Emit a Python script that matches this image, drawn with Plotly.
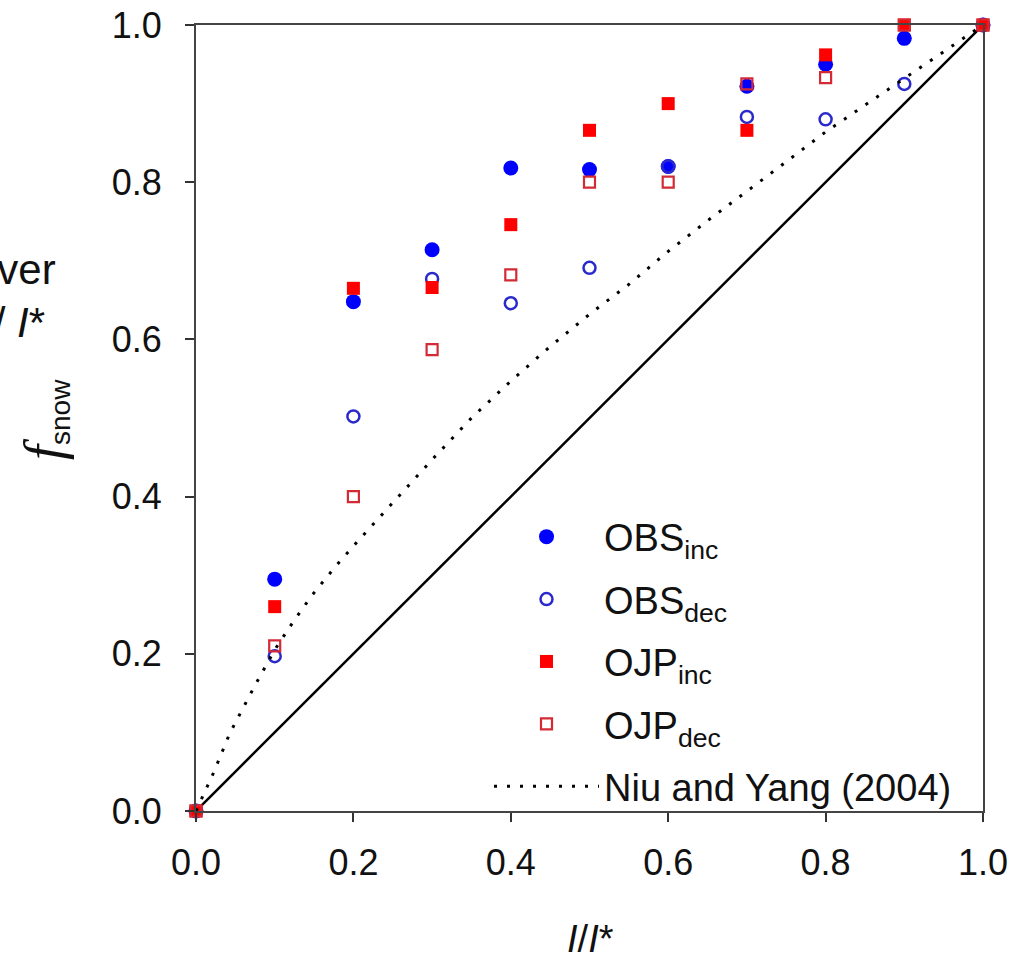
import plotly.graph_objects as go

# ---- data ----
x_vals = [0.0, 0.1, 0.2, 0.3, 0.4, 0.5, 0.6, 0.7, 0.8, 0.9, 1.0]
obs_inc = [0.0, 0.295, 0.648, 0.714, 0.818, 0.816, 0.820, 0.922, 0.950, 0.983, 1.0]
obs_dec = [0.0, 0.197, 0.502, 0.677, 0.646, 0.691, 0.820, 0.883, 0.880, 0.925, 1.0]
ojp_inc = [0.0, 0.260, 0.665, 0.666, 0.746, 0.866, 0.900, 0.866, 0.962, 1.0, 1.0]
ojp_dec = [0.0, 0.210, 0.400, 0.587, 0.682, 0.800, 0.800, 0.925, 0.933, 1.0, 1.0]

niu_x = [0.0, 0.022, 0.043, 0.075, 0.10, 0.123, 0.147, 0.178, 0.208, 0.24, 0.27, 0.30,
         0.35, 0.40, 0.45, 0.50, 0.55, 0.60, 0.65, 0.70, 0.75, 0.80, 0.85, 0.90, 0.95, 1.0]
niu_y = [0.0, 0.048, 0.099, 0.160, 0.205, 0.240, 0.274, 0.312, 0.346, 0.381, 0.414, 0.447,
         0.50, 0.547, 0.591, 0.632, 0.670, 0.712, 0.751, 0.788, 0.826, 0.864, 0.898, 0.932, 0.966, 1.0]

one_to_one = [0.0, 1.0]

tick_vals = [0.0, 0.2, 0.4, 0.6, 0.8, 1.0]
tick_text = ["0.0", "0.2", "0.4", "0.6", "0.8", "1.0"]

FONT = "Liberation Sans, Arial, sans-serif"

fig = go.Figure()

# 1:1 line (no legend entry)
fig.add_trace(go.Scatter(x=one_to_one, y=one_to_one, mode="lines",
                         line=dict(color="black", width=2.5), showlegend=False,
                         hoverinfo="skip", cliponaxis=False))

fig.add_trace(go.Scatter(x=x_vals, y=obs_inc, mode="markers", name="OBS<sub>inc</sub>",
                         legendgroup="a",
                         marker=dict(symbol="circle", size=15, color="#0000ff", line=dict(width=0)),
                         cliponaxis=False))
fig.add_trace(go.Scatter(x=x_vals, y=obs_dec, mode="markers", name="OBS<sub>dec</sub>",
                         legendgroup="b",
                         marker=dict(symbol="circle-open", size=12, color="#2a2acc", line=dict(width=2.5)),
                         cliponaxis=False))
fig.add_trace(go.Scatter(x=x_vals, y=ojp_inc, mode="markers", name="OJP<sub>inc</sub>",
                         legendgroup="c",
                         marker=dict(symbol="square", size=13, color="#ff0000", line=dict(width=0)),
                         cliponaxis=False))
fig.add_trace(go.Scatter(x=x_vals, y=ojp_dec, mode="markers", name="OJP<sub>dec</sub>",
                         legendgroup="d",
                         marker=dict(symbol="square-open", size=11, color="#d42a36", line=dict(width=2.2)),
                         cliponaxis=False))
fig.add_trace(go.Scatter(x=niu_x, y=niu_y, mode="lines", name="Niu and Yang (2004)",
                         legendgroup="e",
                         line=dict(color="black", width=3, dash="3px,10px"),
                         cliponaxis=False))

axis_common = dict(
    range=[0, 1], automargin=False,
    tickmode="array", tickvals=tick_vals, ticktext=tick_text,
    ticks="outside", ticklen=9, tickwidth=1.5, tickcolor="#333",
    showline=True, linecolor="#444", linewidth=2, mirror=True,
    showgrid=False, zeroline=False,
    tickfont=dict(family=FONT, size=36, color="#111"),
)

fig.update_layout(
    width=1021, height=962, autosize=False,
    margin=dict(l=196, r=38, t=25, b=151),
    paper_bgcolor="white", plot_bgcolor="white",
    xaxis=dict(**axis_common, ticklabelstandoff=10),
    yaxis=dict(**axis_common, ticklabelstandoff=16),
    showlegend=True,
    legend=dict(
        x=(489 - 196) / 787, y=0.39 - 1 / 786, xanchor="left", yanchor="top",
        bgcolor="rgba(0,0,0,0)", borderwidth=0,
        font=dict(family=FONT, size=38, color="#111"),
        itemwidth=105, tracegroupgap=10,
    ),
    annotations=[
        dict(xref="paper", yref="paper", x=(590 - 196) / 787, y=(811 - 939) / 786,
             text="<i>I</i>/<i>I</i>*", showarrow=False, xanchor="center", yanchor="middle",
             font=dict(family=FONT, size=38, color="#111")),
        dict(xref="paper", yref="paper", x=(45 - 196) / 787, y=(811 - 420) / 786,
             text="<span style='font-family:\"Liberation Serif\", serif; font-size:54px'><i>f</i></span><sub>snow</sub>",
             textangle=-90, showarrow=False, xanchor="center", yanchor="middle",
             font=dict(family=FONT, size=40, color="#111")),
        dict(xref="paper", yref="paper", x=(58 - 196) / 787, y=(811 - 269) / 786,
             text="over", showarrow=False, xanchor="right", yanchor="middle",
             font=dict(family=FONT, size=42, color="#111")),
        dict(xref="paper", yref="paper", x=(47 - 196) / 787, y=(811 - 322) / 786,
             text="<i>I</i>/ <i>I</i>*", showarrow=False, xanchor="right", yanchor="middle",
             font=dict(family=FONT, size=42, color="#111")),
    ],
)

fig.write_html("out.html")
